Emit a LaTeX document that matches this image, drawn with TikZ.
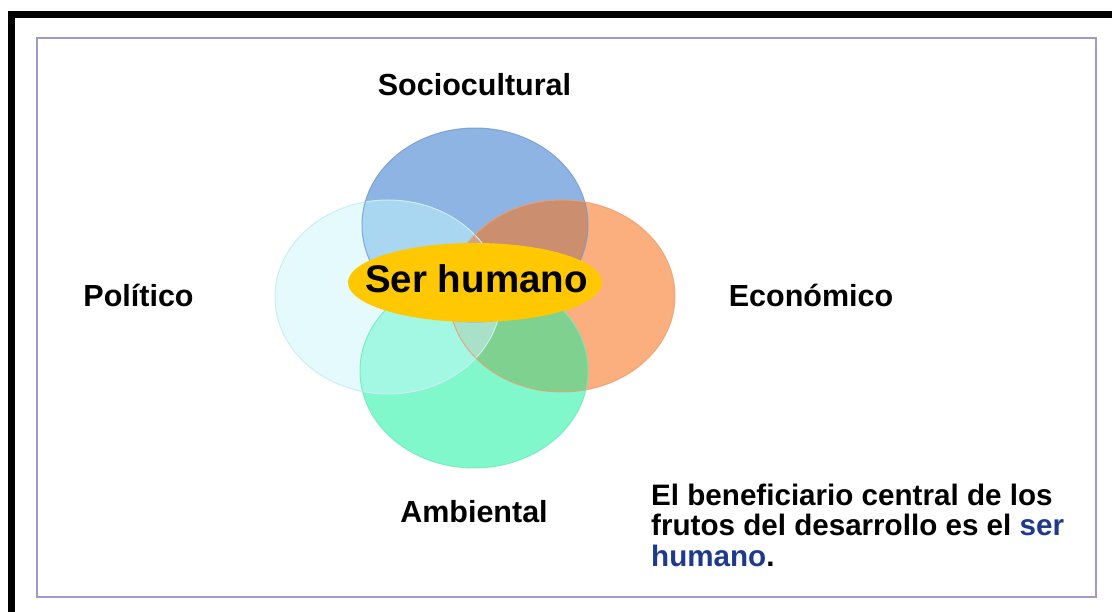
\documentclass[tikz,border=0pt]{standalone}
\usepackage{fontspec}
\setmainfont{Liberation Sans}
\usetikzlibrary{shapes.geometric}
\definecolor{frameC}{HTML}{9E9BCB}
\definecolor{blueC}{HTML}{8DB4E2}
\definecolor{cyanC}{HTML}{E4FAFC}
\definecolor{orangeC}{HTML}{FBAE7E}
\definecolor{greenC}{HTML}{80F8CC}
\definecolor{bcC}{HTML}{A9D6F0}
\definecolor{boC}{HTML}{CB8E6E}
\definecolor{bgC}{HTML}{86CFD6}
\definecolor{cgC}{HTML}{A2F8E2}
\definecolor{coC}{HTML}{E6D0C0}
\definecolor{ogC}{HTML}{7ED18E}
\definecolor{cgoC}{HTML}{A8E0C8}
\definecolor{bcoC}{HTML}{C9A492}
\definecolor{blueE}{HTML}{7399D0}
\definecolor{cyanE}{HTML}{CBEEF4}
\definecolor{orangeE}{HTML}{EE9E6E}
\definecolor{greenE}{HTML}{6DEBBC}
\definecolor{yellowC}{HTML}{FFC800}
\definecolor{serC}{HTML}{1E3A8E}
\def\eB{(475,225) ellipse [x radius=113, y radius=97]}
\def\eC{(388,297) ellipse [x radius=113, y radius=97]}
\def\eO{(562,296) ellipse [x radius=113, y radius=96]}
\def\eG{(474,371) ellipse [x radius=114, y radius=97]}
\begin{document}
\begin{tikzpicture}[x=1pt,y=-1pt,
  lbl/.style={font=\fontsize{30.5}{36}\selectfont\bfseries, text=black, inner sep=0pt, anchor=base},
  para/.style={font=\fontsize{29.6}{34}\selectfont\bfseries, text=black, inner sep=0pt, anchor=base west},
  edge/.style={line width=1pt}]
\useasboundingbox (0,0) rectangle (1112,612);
\fill[white] (0,0) rectangle (1112,612);
\fill[black] (8,11) rectangle (1112,18);
\fill[black] (8,11) rectangle (15,612);
\draw[frameC, line width=2pt] (37,38) rectangle (1096,597);
% base ellipses
\fill[blueC] \eB;
\fill[cyanC] \eC;
\fill[orangeC] \eO;
\fill[greenC] \eG;
% pairwise overlaps
\begin{scope}\clip \eB; \fill[bcC] \eC; \end{scope}
\begin{scope}\clip \eB; \fill[boC] \eO; \end{scope}
\begin{scope}\clip \eB; \fill[bgC] \eG; \end{scope}
\begin{scope}\clip \eC; \fill[cgC] \eG; \end{scope}
\begin{scope}\clip \eC; \fill[coC] \eO; \end{scope}
\begin{scope}\clip \eO; \fill[ogC] \eG; \end{scope}
% triple overlaps
\begin{scope}\clip \eC; \clip \eO; \fill[cgoC] \eG; \end{scope}
\begin{scope}\clip \eB; \clip \eC; \fill[bcoC] \eO; \end{scope}
% outlines
\draw[edge, cyanE] \eC;
\draw[edge, blueE, draw opacity=0.8] \eB;
\draw[edge, orangeE, draw opacity=0.8] \eO;
\draw[edge, greenE, draw opacity=0.8] \eG;
% centre
\fill[yellowC] (475,282.5) ellipse [x radius=127, y radius=39.5];
\node[font=\fontsize{38.5}{40}\selectfont\bfseries, inner sep=0pt, anchor=base] (ser) at (476.5,293) {Ser humano};
% labels
\node[lbl] (soc) at (474.5,96) {Sociocultural};
\node[lbl] (pol) at (138.5,307) {Político};
\node[lbl] (eco) at (811,307) {Económico};
\node[lbl] (amb) at (474,522) {Ambiental};
% paragraph
\node[para] (p1) at (651,505) {El beneficiario central de los};
\node[para] (p2) at (651,535.5) {frutos del desarrollo es el \textcolor{serC}{ser}};
\node[para] (p3) at (651,566) {\textcolor{serC}{humano}.};
\end{tikzpicture}
\end{document}
